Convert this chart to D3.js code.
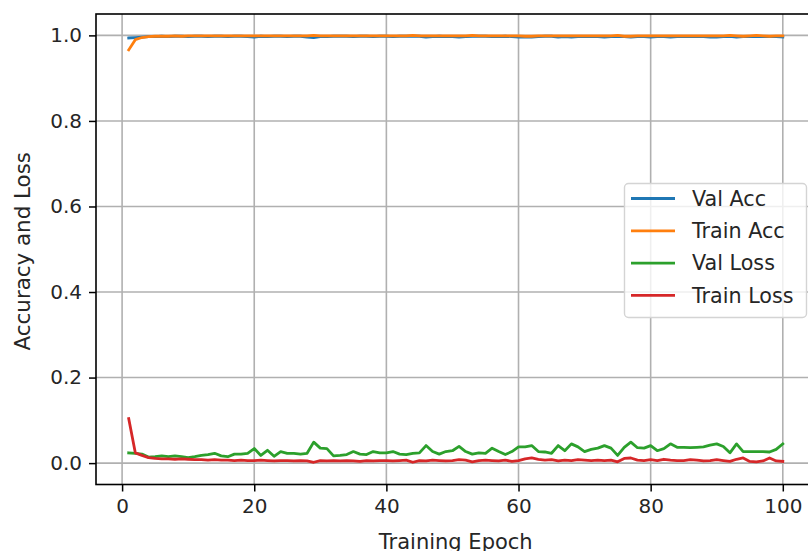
<!DOCTYPE html>
<html>
<head>
<meta charset="utf-8">
<script src="https://cdn.jsdelivr.net/npm/d3@7"></script>
<style>
body { margin: 0; background: #fff; }
text { font-family: "DejaVu Sans", sans-serif; fill: #262626; }
</style>
</head>
<body>
<script>
var epochs = d3.range(1, 101);

var valAcc = [0.994, 0.995, 0.996, 0.997, 0.997, 0.998, 0.997, 0.998, 0.998, 0.997,
	0.998, 0.998, 0.997, 0.998, 0.998, 0.997, 0.998, 0.998, 0.997, 0.996,
	0.998, 0.997, 0.998, 0.998, 0.997, 0.998, 0.998, 0.996, 0.995, 0.997,
	0.997, 0.998, 0.998, 0.998, 0.997, 0.998, 0.998, 0.997, 0.998, 0.998,
	0.997, 0.998, 0.998, 0.998, 0.998, 0.996, 0.997, 0.998, 0.997, 0.997,
	0.996, 0.997, 0.998, 0.998, 0.998, 0.997, 0.997, 0.998, 0.997, 0.996,
	0.996, 0.996, 0.997, 0.998, 0.998, 0.996, 0.997, 0.996, 0.997, 0.997,
	0.997, 0.997, 0.996, 0.997, 0.998, 0.997, 0.996, 0.997, 0.997, 0.996,
	0.997, 0.997, 0.996, 0.997, 0.997, 0.997, 0.997, 0.997, 0.996, 0.996,
	0.997, 0.998, 0.996, 0.997, 0.997, 0.997, 0.997, 0.997, 0.997, 0.996];

var trainAcc = [0.966, 0.990, 0.995, 0.997, 0.998, 0.998, 0.998, 0.999, 0.998, 0.999,
	0.999, 0.999, 0.999, 0.999, 0.999, 0.999, 0.999, 0.999, 0.999, 0.999,
	0.999, 0.999, 0.999, 0.999, 0.999, 0.999, 0.999, 0.999, 1.000, 0.999,
	0.999, 0.999, 0.999, 0.999, 0.999, 0.999, 0.999, 0.999, 0.999, 0.999,
	0.999, 0.999, 0.999, 1.000, 0.999, 0.999, 0.999, 0.999, 0.999, 0.999,
	0.999, 0.999, 1.000, 0.999, 0.999, 0.999, 0.999, 0.999, 0.999, 0.999,
	0.998, 0.998, 0.999, 0.999, 0.999, 0.999, 0.999, 0.999, 0.999, 0.999,
	0.999, 0.999, 0.999, 0.999, 1.000, 0.998, 0.998, 0.999, 0.999, 0.999,
	0.999, 0.999, 0.999, 0.999, 0.999, 0.999, 0.999, 0.999, 0.999, 0.999,
	0.999, 1.000, 0.999, 0.998, 0.999, 1.000, 0.999, 0.998, 0.999, 0.999];

var valLoss = [0.024, 0.023, 0.021, 0.014, 0.015, 0.017, 0.015, 0.017, 0.015, 0.013,
	0.015, 0.018, 0.020, 0.023, 0.017, 0.015, 0.021, 0.021, 0.023, 0.034,
	0.018, 0.030, 0.016, 0.027, 0.023, 0.023, 0.021, 0.023, 0.049, 0.035,
	0.034, 0.017, 0.018, 0.020, 0.027, 0.021, 0.020, 0.027, 0.024, 0.024,
	0.027, 0.021, 0.020, 0.023, 0.024, 0.041, 0.027, 0.021, 0.027, 0.029,
	0.039, 0.027, 0.021, 0.024, 0.023, 0.035, 0.027, 0.020, 0.027, 0.038,
	0.038, 0.041, 0.027, 0.026, 0.023, 0.041, 0.029, 0.045, 0.038, 0.027,
	0.032, 0.035, 0.041, 0.035, 0.018, 0.037, 0.049, 0.036, 0.035, 0.041,
	0.029, 0.034, 0.045, 0.037, 0.037, 0.036, 0.037, 0.038, 0.042, 0.045,
	0.039, 0.024, 0.045, 0.027, 0.027, 0.027, 0.027, 0.026, 0.032, 0.045];

var trainLoss = [0.104, 0.024, 0.018, 0.013, 0.011, 0.010, 0.010, 0.009, 0.010, 0.009,
	0.008, 0.008, 0.007, 0.008, 0.007, 0.007, 0.006, 0.007, 0.006, 0.006,
	0.007, 0.006, 0.005, 0.006, 0.006, 0.005, 0.006, 0.005, 0.002, 0.006,
	0.005, 0.006, 0.005, 0.006, 0.005, 0.004, 0.006, 0.005, 0.006, 0.006,
	0.005, 0.006, 0.007, 0.002, 0.006, 0.005, 0.007, 0.006, 0.005, 0.006,
	0.008, 0.007, 0.003, 0.006, 0.007, 0.006, 0.005, 0.007, 0.004, 0.006,
	0.010, 0.012, 0.009, 0.007, 0.008, 0.005, 0.007, 0.006, 0.008, 0.007,
	0.006, 0.007, 0.006, 0.007, 0.003, 0.011, 0.012, 0.007, 0.006, 0.008,
	0.006, 0.009, 0.007, 0.006, 0.006, 0.008, 0.007, 0.005, 0.006, 0.008,
	0.006, 0.004, 0.009, 0.012, 0.004, 0.003, 0.005, 0.012, 0.005, 0.004];

var xTicks = [0, 20, 40, 60, 80, 100];
var yTicks = [0.0, 0.2, 0.4, 0.6, 0.8, 1.0];

var seriesNames = ['Val Acc', 'Train Acc', 'Val Loss', 'Train Loss'];
var seriesData = [valAcc, trainAcc, valLoss, trainLoss];
var colors = ['#1f77b4', '#ff7f0e', '#2ca02c', '#d62728'];

var pLeft = 96, pRight = 815.5, pTop = 14, pBottom = 484.5;

var svg = d3.select('body').append('svg')
	.attr('width', 808)
	.attr('height', 551);

var x = d3.scaleLinear().domain([-3.95, 104.95]).range([pLeft, pRight]);
var y = d3.scaleLinear().domain([-0.05, 1.05]).range([pBottom, pTop]);

// grid
svg.append('g').selectAll('line')
	.data(xTicks).enter().append('line')
	.attr('x1', d => x(d)).attr('x2', d => x(d))
	.attr('y1', pTop).attr('y2', pBottom)
	.attr('stroke', '#b0b0b0').attr('stroke-width', 1.6);

svg.append('g').selectAll('line')
	.data(yTicks).enter().append('line')
	.attr('x1', pLeft).attr('x2', pRight)
	.attr('y1', d => y(d)).attr('y2', d => y(d))
	.attr('stroke', '#b0b0b0').attr('stroke-width', 1.6);

// lines
var line = d3.line()
	.x((d, i) => x(epochs[i]))
	.y(d => y(d));

var plot = svg.append('g');
seriesData.forEach(function(s, i) {
	plot.append('path')
		.datum(s)
		.attr('d', line)
		.attr('fill', 'none')
		.attr('stroke', colors[i])
		.attr('stroke-width', 2.8)
		.attr('stroke-linejoin', 'round')
		.attr('stroke-linecap', 'square');
});

// axes
var xAxis = d3.axisBottom(x).tickValues(xTicks).tickFormat(d3.format('d'))
	.tickSize(7).tickPadding(7);
var yAxis = d3.axisLeft(y).tickValues(yTicks).tickFormat(d3.format('.1f'))
	.tickSize(7).tickPadding(7);

var gx = svg.append('g').attr('transform', 'translate(0,' + pBottom + ')').call(xAxis);
var gy = svg.append('g').attr('transform', 'translate(' + pLeft + ',0)').call(yAxis);

[gx, gy].forEach(function(g) {
	g.select('.domain').remove();
	g.selectAll('line').attr('stroke', '#000').attr('stroke-width', 1.5);
	g.selectAll('text').attr('font-size', 20).attr('fill', '#262626')
		.style('font-family', '"DejaVu Sans", sans-serif');
});

svg.append('rect')
	.attr('x', pLeft).attr('y', pTop)
	.attr('width', pRight - pLeft).attr('height', pBottom - pTop)
	.attr('fill', 'none')
	.attr('stroke', '#000')
	.attr('stroke-width', 1.6);

svg.append('text')
	.attr('x', (pLeft + pRight) / 2)
	.attr('y', 549)
	.attr('text-anchor', 'middle')
	.attr('font-size', 21)
	.text('Training Epoch');

svg.append('text')
	.attr('transform', 'translate(30,' + ((pTop + pBottom) / 2 + 2) + ') rotate(-90)')
	.attr('text-anchor', 'middle')
	.attr('font-size', 21.4)
	.text('Accuracy and Loss');

// legend
var legend = svg.append('g');
legend.append('rect')
	.attr('x', 624.5).attr('y', 183.5)
	.attr('width', 182).attr('height', 134)
	.attr('rx', 4)
	.attr('fill', '#fff').attr('fill-opacity', 0.8)
	.attr('stroke', '#d4d4d4').attr('stroke-width', 1.4);

var rows = legend.selectAll('g')
	.data(seriesNames).enter().append('g')
	.attr('transform', (d, i) => 'translate(0,' + (198.5 + i * 32.3) + ')');

rows.append('line')
	.attr('x1', 631).attr('x2', 675)
	.attr('stroke', (d, i) => colors[i])
	.attr('stroke-width', 2.8);

rows.append('text')
	.attr('x', 692)
	.attr('dy', '0.35em')
	.attr('font-size', 20.7)
	.text(d => d);
</script>
</body>
</html>
